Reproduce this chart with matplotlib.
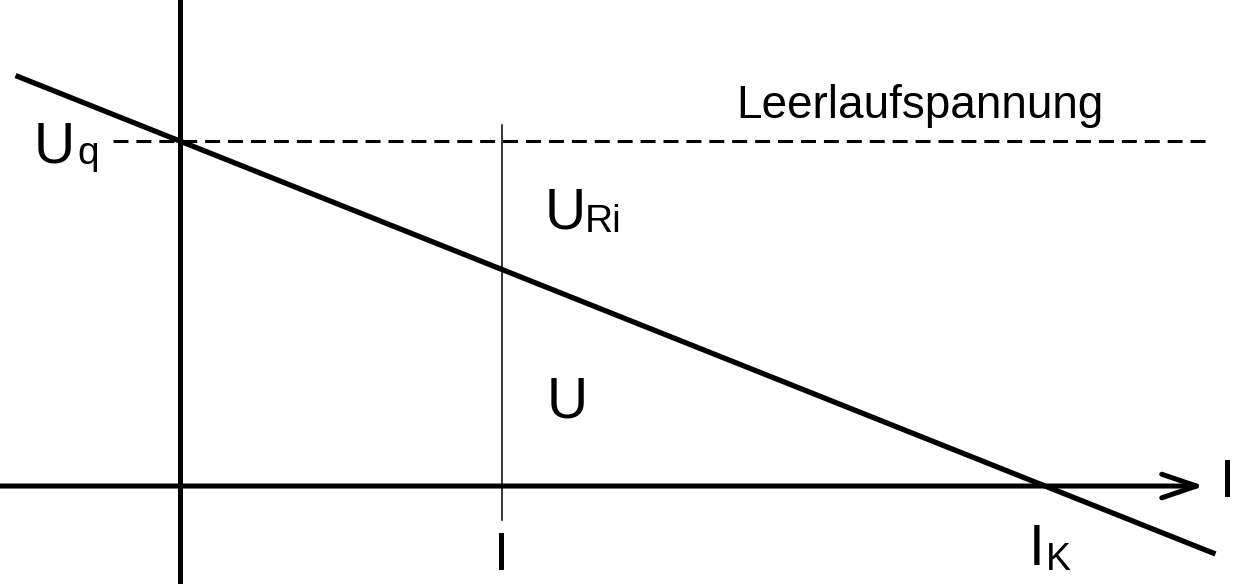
import matplotlib.pyplot as plt

plt.rcParams['font.family'] = ['Liberation Sans', 'DejaVu Sans']

# Kennlinie einer realen Spannungsquelle (normiert)
U_q = 1.0          # Leerlaufspannung
I_K = 1.0          # Kurzschlussstrom
I_last = 0.372     # eingezeichneter Laststrom
I_kenn = [-0.19, 1.197]                       # Bereich der Kennlinie
U_kenn = [U_q * (1 - i / I_K) for i in I_kenn]
I_leer = [-0.077, 1.19]                       # Bereich der gestrichelten Linie

fig = plt.figure(figsize=(12.57, 5.84), dpi=100)
ax = fig.add_axes([0, 0, 1, 1])
ax.set_xlim(-0.208, 1.245)
ax.set_ylim(-0.284, 1.409)
ax.axis('off')

# Achsen
ax.axvline(0, color='black', lw=3.6)
ax.annotate('', xy=(1.184, 0), xytext=(-0.21, 0),
            arrowprops=dict(arrowstyle='->,head_length=25,head_width=8.5',
                            mutation_scale=1, lw=3.6, color='black',
                            shrinkA=0, shrinkB=0))

# Leerlaufspannung (gestrichelt)
ax.plot(I_leer, [U_q, U_q], color='black', lw=2.2, dashes=(4.9, 2.6))

# Kennlinie
ax.plot(I_kenn, U_kenn, color='black', lw=3.8, solid_capstyle='butt')

# Laststrom
ax.plot([I_last, I_last], [1.046, -0.099], color='black', lw=1.1)

# Beschriftungen
big = 41
ax.text(-0.169, 0.939, 'U', fontsize=big, va='baseline', ha='left')
ax.text(-0.119, 0.935, 'q', fontsize=28, va='baseline', ha='left')

ax.text(0.422, 0.748, 'U', fontsize=big, va='baseline', ha='left')
ax.text(0.468, 0.736, 'Ri', fontsize=28, va='baseline', ha='left')

ax.text(0.424, 0.200, 'U', fontsize=big, va='baseline', ha='left')

ax.text(0.372, -0.243, 'I', fontsize=39, va='baseline', ha='center')
ax.text(1.211, -0.032, 'I', fontsize=39, va='baseline', ha='center')
ax.text(0.990, -0.229, 'I', fontsize=big, va='baseline', ha='center')
ax.text(1.001, -0.243, 'K', fontsize=27, va='baseline', ha='left')

ax.text(0.643, 1.067, 'Leerlaufspannung', fontsize=33, va='baseline', ha='left')

fig.savefig('out.png', dpi=100)
